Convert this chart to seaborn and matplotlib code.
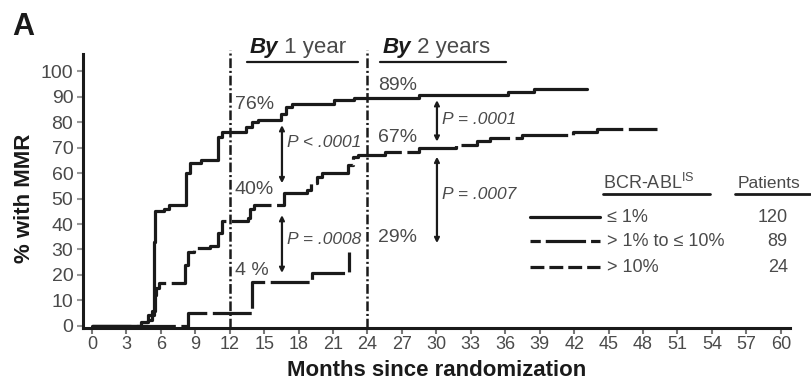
import matplotlib
matplotlib.use("Agg")
import matplotlib.pyplot as plt
import seaborn as sns
import pandas as pd

# ---------------- data ----------------
months_le1 = [0, 4.3, 4.9, 5.4, 5.5, 6.3, 6.7, 8.2, 8.5, 9.5, 11.0, 11.3, 13.4, 13.9,
              14.5, 16.5, 16.9, 17.4, 21.1, 22.8, 28.5, 36.2, 38.5, 43.1]
mmr_le1 = [0, 1.7, 4.3, 33, 45, 46, 47.5, 60, 64, 65, 74, 76, 78, 80,
           81, 83, 86, 87, 88.6, 89.3, 90.6, 91.6, 93, 93]

months_1to10 = [0, 4.9, 5.2, 5.45, 5.6, 5.8, 8.1, 8.4, 8.9, 10.3, 11.0, 11.3, 13.6, 13.8,
                14.1, 16.7, 18.7, 19.1, 19.6, 20.0, 22.3, 22.7, 23.2, 25.5, 28.5, 31.7,
                33.5, 34.7, 37.5, 41.9, 44.0, 49.2]
mmr_1to10 = [0, 2.5, 6, 12, 15, 17, 24, 29, 30.6, 31.5, 36.4, 41, 42.3, 45.8,
             47.5, 52, 53.3, 56, 58.5, 60, 63, 66.4, 67.2, 68.4, 69.7, 71,
             72.5, 73.7, 75, 76.2, 77.2, 77.2]

months_gt10 = [0, 8.4, 13.9, 19.2, 22.4]
mmr_gt10 = [0, 5.2, 17.4, 20.6, 29]

group_labels = ["\u2264 1%", "> 1% to \u2264 10%", "> 10%"]
patients = ["120", "89", "24"]

x_ticks = list(range(0, 61, 3))
y_ticks = list(range(0, 101, 10))

landmarks = [12, 24]
landmark_titles = ["1 year", "2 years"]

pct_text = ["76%", "40%", "4 %", "89%", "67%", "29%"]
pct_x = [12.45, 12.45, 12.45, 24.9, 24.9, 24.9]
pct_y = [86.7, 53.7, 21.6, 94.5, 74.0, 34.7]

p_text = ["P < .0001", "P = .0008", "P = .0001", "P = .0007"]
p_text_x = [17.0, 17.0, 30.5, 30.5]
p_text_y = [72.0, 34.0, 81.0, 51.4]
arrow_x = [16.55, 16.55, 30.05, 30.05]
arrow_top = [78.8, 43.5, 88.6, 66.4]
arrow_bot = [56.0, 20.8, 72.3, 32.5]

# ---------------- style ----------------
sns.set_theme(style="ticks")
plt.rcParams["font.family"] = ["Liberation Sans", "DejaVu Sans"]
plt.rcParams["lines.scale_dashes"] = False
INK = "#1a1a1a"
TXT = "#4a4a4a"

legend_styles = ["-", (21.6, (29, 3.6)), (0, (10, 3.6))]
curve_styles = ["-", (0, (40, 4)), (0, (28, 4))]

fig = plt.figure(figsize=(8.11, 3.83), dpi=100)
ax = fig.add_axes([83 / 811, 1 - 328 / 383, 707 / 811, 274 / 383])

series = [(months_le1, mmr_le1), (months_1to10, mmr_1to10), (months_gt10, mmr_gt10)]
for (mx, my), ls in zip(series, curve_styles):
    df = pd.DataFrame({"month": mx, "mmr": my})
    sns.lineplot(data=df, x="month", y="mmr", ax=ax, estimator=None, sort=False,
                 drawstyle="steps-post", color=INK, lw=2.3, linestyle=ls)

ax.set_xlim(-0.78, 60.8)
ax.set_ylim(-0.8, 106.7)
ax.set_xticks(x_ticks)
ax.set_yticks(y_ticks)
ax.tick_params(axis="x", labelsize=13, colors="#777777", labelcolor=TXT, length=4, width=1.5, pad=2)
ax.tick_params(axis="y", labelsize=14, colors="#999999", labelcolor=TXT, length=4, width=1.5, pad=3)
for s in ["top", "right"]:
    ax.spines[s].set_visible(False)
for s in ["left", "bottom"]:
    ax.spines[s].set_linewidth(2.2)
    ax.spines[s].set_color(INK)

ax.set_xlabel("Months since randomization", fontsize=16, fontweight="bold", color=INK)
ax.set_ylabel("% with MMR", fontsize=16, fontweight="bold", color=INK)
ax.xaxis.set_label_coords(0.5, -0.118)
ax.yaxis.set_label_coords(-0.068, 0.474)

# landmark dash-dot lines and titles
title_x = [13.76, 25.35]
ul_x0 = [13.5, 25.1]
ul_x1 = [23.2, 36.1]
for lm, tt, tx, u0, u1 in zip(landmarks, landmark_titles, title_x, ul_x0, ul_x1):
    ax.axvline(lm, 0, 1.015, color=INK, lw=1.8, linestyle=(0, (7, 2, 1.5, 2)), clip_on=False)
    t1 = ax.text(tx, 105.1, "By", fontsize=16, fontweight="bold", fontstyle="italic",
                 color=INK, va="bottom", ha="left")
    ax.annotate(" " + tt, xy=(1, 0), xycoords=t1, va="bottom", ha="left",
                fontsize=16, color=TXT)
    ax.plot([u0, u1], [103.5, 103.5], color=INK, lw=1.6, clip_on=False)

for t, x, y in zip(pct_text, pct_x, pct_y):
    ax.text(x, y, t, fontsize=14, color=TXT, va="center", ha="left")

for t, x, y in zip(p_text, p_text_x, p_text_y):
    ax.text(x, y, t, fontsize=12.5, color=TXT, va="center", ha="left", fontstyle="italic")

for x, y0, y1 in zip(arrow_x, arrow_top, arrow_bot):
    ax.annotate("", xy=(x, y0), xytext=(x, y1),
                arrowprops=dict(arrowstyle="<->", lw=1.6, color=INK,
                                shrinkA=0, shrinkB=0, mutation_scale=7))

# legend (drawn as a small table)
leg_y = [42.7, 33.3, 23.1]
for lab, n, y, ls in zip(group_labels, patients, leg_y, legend_styles):
    ax.plot([38.15, 44.25], [y, y], color=INK, lw=2.3, linestyle=ls, clip_on=False)
    ax.text(44.86, y, lab, fontsize=13, color=TXT, va="center", ha="left")
    ax.text(60.6, y, n, fontsize=13, color=TXT, va="center", ha="right")
ax.text(44.5, 56, "BCR-ABL$^{\\mathregular{IS}}$", fontsize=13, color=TXT, va="center", ha="left")
ax.text(56.2, 56, "Patients", fontsize=12.5, color=TXT, va="center", ha="left")
ax.plot([44.5, 53.8], [51.8, 51.8], color=INK, lw=2.0, clip_on=False)
ax.plot([56.0, 62.5], [51.8, 51.8], color=INK, lw=2.0, clip_on=False)

fig.text(12 / 811, 1 - 12 / 383, "A", fontsize=22, fontweight="bold", color=INK,
         va="top", ha="left")

fig.savefig("out.png", dpi=100)
